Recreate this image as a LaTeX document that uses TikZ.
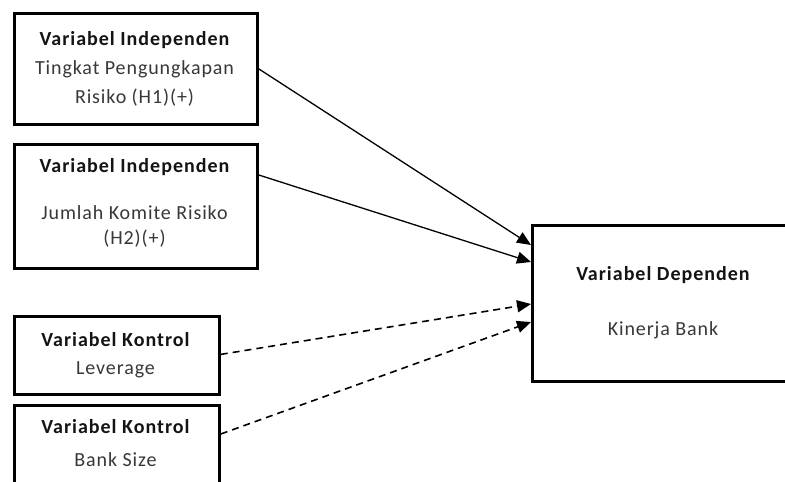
\documentclass[tikz,border=0pt]{standalone}
\usepackage{fontspec}
\setmainfont{Carlito}
\newfontfamily\hdfont[LetterSpace=5]{Carlito}
\newfontfamily\txfont[LetterSpace=4.5]{Carlito}
\usetikzlibrary{arrows.meta,calc}
\begin{document}
\begin{tikzpicture}[x=1pt,y=-1pt,
  box/.style={draw=black,line width=2.8pt,fill=white,inner sep=0pt},
  hd/.style={font=\hdfont\fontsize{20}{24}\selectfont\bfseries,text=black!92,inner sep=0pt},
  tx/.style={font=\txfont\fontsize{20}{24}\selectfont,text=black!78,inner sep=0pt},
  solidarrow/.style={line width=1.3pt,-{Triangle[length=14pt,width=12pt]}},
  dasharrow/.style={line width=1.6pt,dash pattern=on 7pt off 5pt,-{Triangle[length=14pt,width=12pt]}}]
\useasboundingbox (0,0) rectangle (785,482);
\clip (0,0) rectangle (785,482);
% boxes
\node[box,minimum width=243pt,minimum height=111pt,anchor=north west] (b1) at (13,12) {};
\node[box,minimum width=243pt,minimum height=124pt,anchor=north west] (b2) at (13,143) {};
\node[box,minimum width=205pt,minimum height=78pt,anchor=north west] (b3) at (13,315) {};
\node[box,minimum width=205pt,minimum height=100pt,anchor=north west] (b4) at (13,404) {};
\node[box,minimum width=280pt,minimum height=156pt,anchor=north west] (dep) at (531,224) {};
% texts
\node[hd] (t1a) at (134.5,40) {Variabel Independen};
\node[tx] (t1b) at (134.5,69) {Tingkat Pengungkapan};
\node[tx] (t1c) at (134.5,98) {Risiko (H1)(+)};
\node[hd] (t2a) at (134.5,167) {Variabel Independen};
\node[tx] (t2b) at (134.5,213) {Jumlah Komite Risiko};
\node[tx] (t2c) at (134.5,239) {(H2)(+)};
\node[hd] (t3a) at (115.5,340) {Variabel Kontrol};
\node[tx] (t3b) at (115.5,370) {Leverage};
\node[hd] (t4a) at (115.5,427) {Variabel Kontrol};
\node[tx] (t4b) at (115.5,460) {Bank Size};
\node[hd] (t5a) at (663,275) {Variabel Dependen};
\node[tx] (t5b) at (663,330) {Kinerja Bank};
% connector endpoints
\coordinate (s1) at (b1.east);
\coordinate (s2) at ($(b2.north east)+(0,32)$);
\coordinate (s3) at ($(b3.east)+(0,-1)$);
\coordinate (s4) at ($(b4.north east)+(0,30)$);
\coordinate (e1) at ($(dep.north west)+(0,21)$);
\coordinate (e2) at ($(dep.north west)+(0,38)$);
\coordinate (e3) at ($(dep.north west)+(0,80)$);
\coordinate (e4) at ($(dep.north west)+(0,98)$);
\draw[solidarrow] (s1) -- (e1);
\draw[solidarrow] (s2) -- (e2);
\draw[dasharrow] (s3) -- (e3);
\draw[dasharrow] (s4) -- (e4);
\end{tikzpicture}
\end{document}
